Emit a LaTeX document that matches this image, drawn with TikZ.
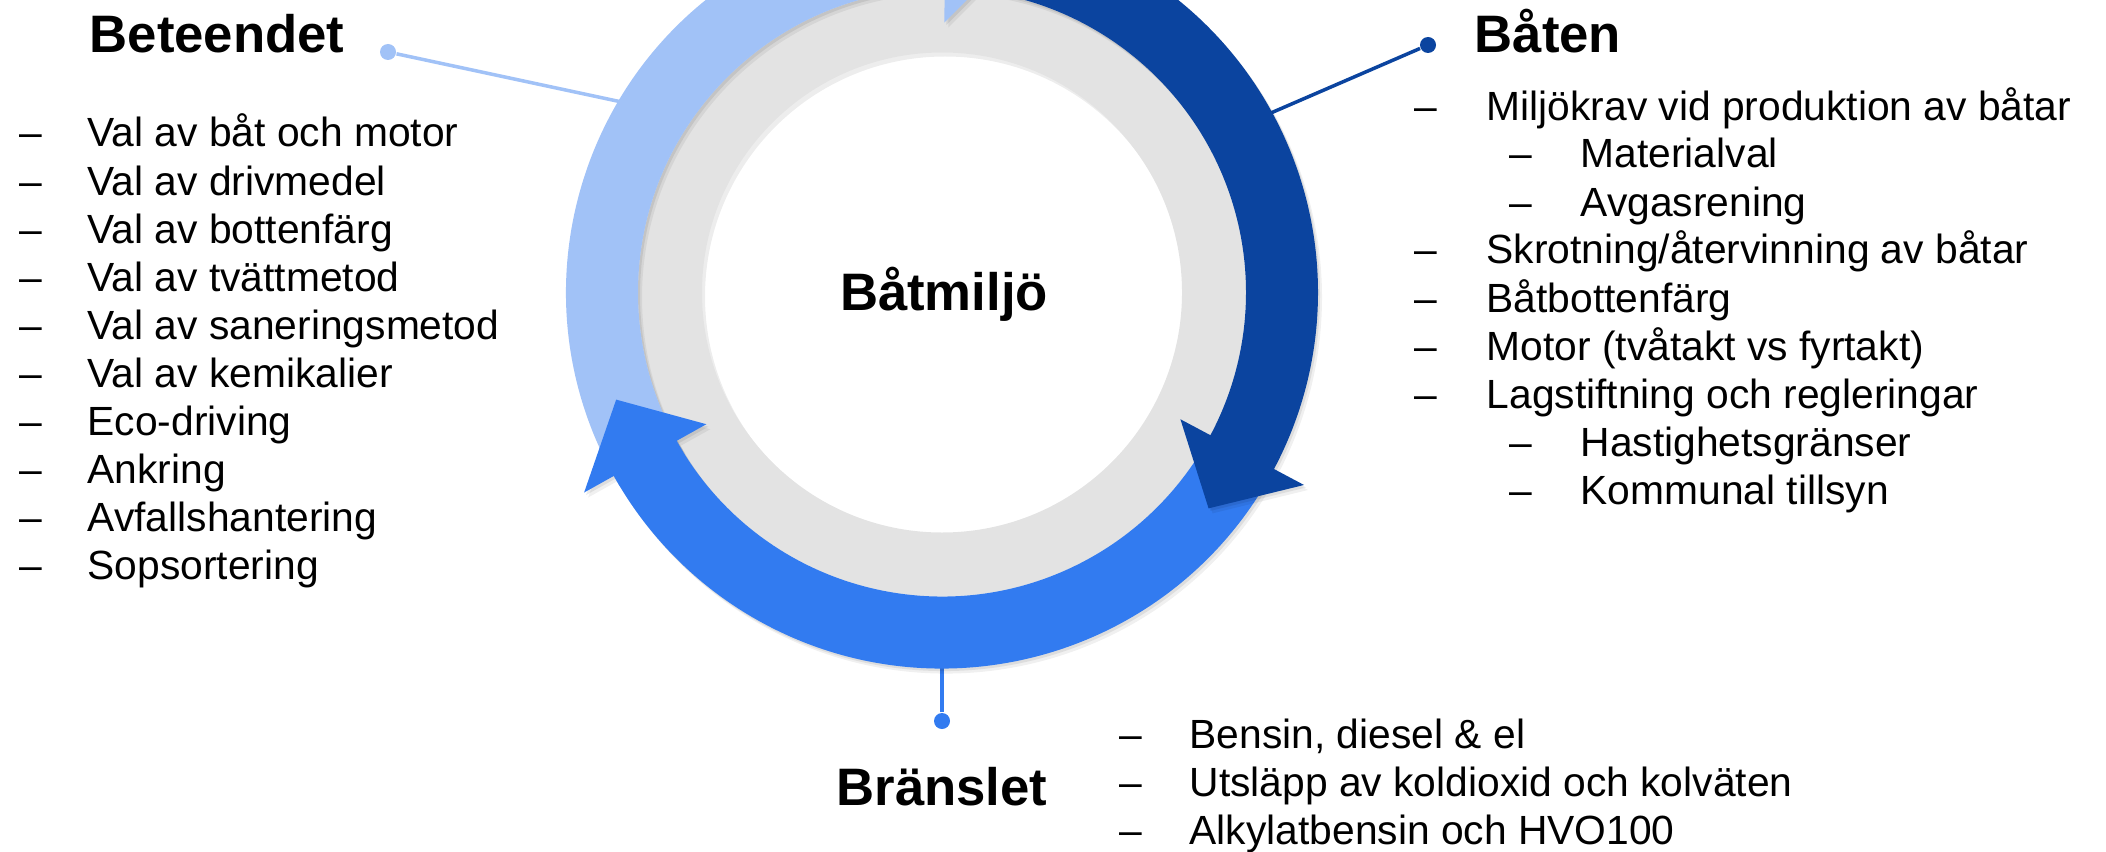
\documentclass[tikz,border=0pt]{standalone}
\usepackage{fontspec}
\setmainfont{Liberation Sans}
\usetikzlibrary{calc}

\definecolor{ringgray}{HTML}{E3E3E3}
\definecolor{lightblue}{HTML}{A1C2F7}
\definecolor{midblue}{HTML}{327BF0}
\definecolor{darkblue}{HTML}{0B449F}

% outline of one curved arrow of the cycle: start angle, end angle
\newcommand{\arrowpath}[2]{(#1:376) arc[start angle=#1, end angle=#2, radius=376]
    -- (#2:410) -- ({#2-11}:343) -- (#2:270) -- (#2:304)
    arc[start angle=#2, end angle=#1, radius=304] -- cycle}
% arrow with a soft shadow: start angle, end angle, colour
\newcommand{\cyclearrow}[3]{%
  \fill[black, opacity=0.06, shift={(4,-5)}] \arrowpath{#1}{#2};
  \fill[black, opacity=0.08, shift={(2,-2.5)}] \arrowpath{#1}{#2};
  \fill[#3] \arrowpath{#1}{#2};}

\begin{document}
\begin{tikzpicture}[x=0.1mm,y=0.1mm,
  item/.style={font=\fontsize{11.6}{14}\selectfont, inner sep=0, anchor=base west},
  head/.style={font=\fontsize{15}{18}\selectfont\bfseries, inner sep=0},
  dotnode/.style={circle, inner sep=0, minimum size=1.6mm},
  link/.style={line width=1pt}]

\useasboundingbox (0,0) rectangle (2106,-851);
\clip (0,0) rectangle (2106,-851);

\begin{scope}[shift={(942,-292.5)}]
 \coordinate (ringBeh) at (148:350);
 \coordinate (ringBat) at (29:350);
 \coordinate (ringBra) at (270:350);
\end{scope}

% dots and connectors
\node[dotnode, fill=lightblue] (dotBeh) at (388,-52) {};
\node[dotnode, fill=darkblue] (dotBat) at (1428,-45) {};
\node[dotnode, fill=midblue] (dotBra) at (942,-721) {};
\draw[link, lightblue] (dotBeh) -- (ringBeh);
\draw[link, darkblue] (dotBat) -- (ringBat);
\draw[link, midblue] (dotBra) -- (ringBra);

\begin{scope}[shift={(942,-292.5)}]
 \fill[black, opacity=0.07, even odd rule, shift={(3,-4)}] (0,0) circle[radius=304] (0,0) circle[radius=240];
 \fill[ringgray, even odd rule] (0,0) circle[radius=304] (0,0) circle[radius=240];
 \cyclearrow{211}{89.5}{lightblue}
 \cyclearrow{-30}{-150.8}{midblue}
 \cyclearrow{80}{-28}{darkblue}
 \node[head, anchor=base] (center) at (2,-18) {Båtmiljö};
\end{scope}

% headings
\node[head, anchor=base west] (behHead) at (89,-53) {Beteendet};
\node[head, anchor=base west] (batHead) at (1474,-53) {Båten};
\node[head, anchor=base] (braHead) at (942,-805) {Bränslet};

% lists
\foreach \t [count=\i] in {Val av båt och motor, Val av drivmedel, Val av bottenfärg,
  Val av tvättmetod, Val av saneringsmetod, Val av kemikalier, Eco-driving, Ankring,
  Avfallshantering, Sopsortering}
 {\node[item] (behDash\i) at (19,{-147-48*(\i-1)}) {–};
  \node[item] (beh\i) at (87,{-147-48*(\i-1)}) {\t};}

\foreach \l/\t [count=\i] in {0/Miljökrav vid produktion av båtar, 1/Materialval,
  1/Avgasrening, 0/{Skrotning/återvinning av båtar}, 0/Båtbottenfärg,
  0/Motor (tvåtakt vs fyrtakt), 0/Lagstiftning och regleringar,
  1/Hastighetsgränser, 1/Kommunal tillsyn}
 {\node[item] (batDash\i) at ({1414+95*\l},{-120-48*(\i-1)}) {–};
  \node[item] (bat\i) at ({1486+94*\l},{-120-48*(\i-1)}) {\t};}

\foreach \t [count=\i] in {{Bensin, diesel \& el}, Utsläpp av koldioxid och kolväten,
  Alkylatbensin och HVO100}
 {\node[item] (braDash\i) at (1119,{-748-48*(\i-1)}) {–};
  \node[item] (bra\i) at (1189,{-748-48*(\i-1)}) {\t};}

\end{tikzpicture}
\end{document}
